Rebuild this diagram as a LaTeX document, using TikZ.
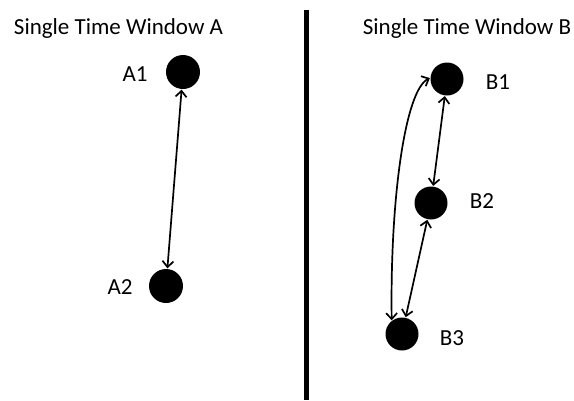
\documentclass[tikz,border=0pt]{standalone}
\usepackage{fontspec}
\setmainfont{Carlito}
\usetikzlibrary{arrows.meta}
\begin{document}
\begin{tikzpicture}[x=1pt,y=-1pt,
  dot/.style={circle,fill=black,minimum size=34pt,inner sep=0pt},
  lbl/.style={font=\fontsize{23}{26}\selectfont,inner sep=0pt},
  title/.style={font=\fontsize{23}{26}\selectfont,inner sep=0pt},
  link/.style={line width=1.7pt,{Straight Barb[length=6pt,width=11pt]}-{Straight Barb[length=6pt,width=11pt]},shorten <=0.5pt,shorten >=0.5pt}]
\useasboundingbox (0,0) rectangle (574,400);
% titles
\node[title] (ta) at (118.5,28) {Single Time Window A};
\node[title] (tb) at (467,28) {Single Time Window B};
% divider
\coordinate (d1) at (306,10);
\coordinate (d2) at (306,400);
\draw[line width=5pt] (d1) -- (d2);
% nodes of window A
\node[dot] (A1) at (183,72) {};
\node[dot] (A2) at (166,286) {};
\node[lbl] (lA1) at (135,74) {A1};
\node[lbl] (lA2) at (120,287) {A2};
% nodes of window B
\node[dot,minimum size=33pt] (B1) at (447,79) {};
\node[dot,minimum size=33pt] (B2) at (431,203) {};
\node[dot,minimum size=33pt] (B3) at (402,334) {};
\node[lbl] (lB1) at (498,82) {B1};
\node[lbl] (lB2) at (482,201) {B2};
\node[lbl] (lB3) at (452,338) {B3};
% connectors
\draw[link] (A1) -- (A2);
\draw[link] (B1) -- (B2);
\draw[link] (B2) -- (B3);
\draw[link] (B1.176) .. controls (405,90) and (390,200) .. (B3.128);
\end{tikzpicture}
\end{document}
